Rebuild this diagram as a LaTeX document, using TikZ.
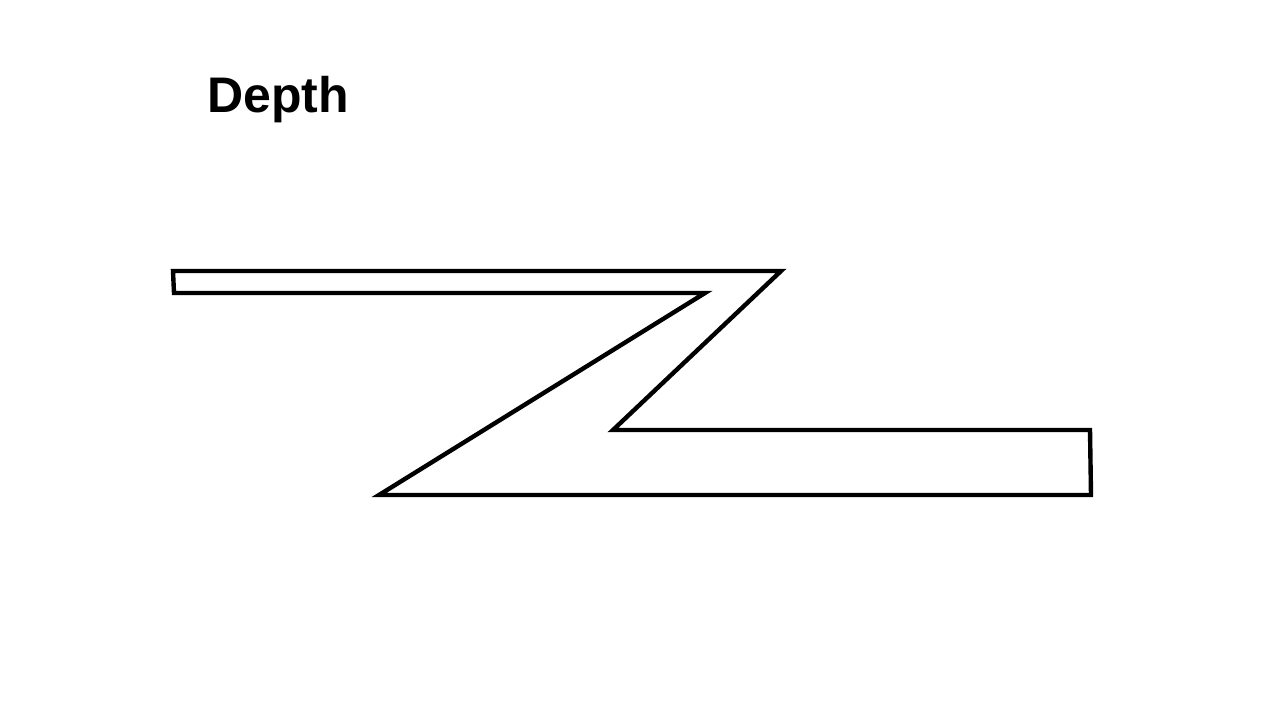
\documentclass[tikz,border=0pt]{standalone}
\usepackage{fontspec}
\setmainfont{Liberation Sans}
\begin{document}
\begin{tikzpicture}[x=1pt,y=-1pt,
  outline/.style={draw=black,line width=4.4pt,line join=miter,fill=white},
  titletext/.style={font=\fontsize{50}{58}\selectfont\bfseries,anchor=base west,inner sep=0pt}]
\useasboundingbox (0,0) rectangle (1280,720);
\node[titletext] (title) at (207,112) {Depth};
\draw[outline] (173,271) -- (781,271) -- (613,430) -- (1090,430) -- (1091,495) -- (379,495) -- (705,293) -- (174,293) -- cycle;
\end{tikzpicture}
\end{document}
